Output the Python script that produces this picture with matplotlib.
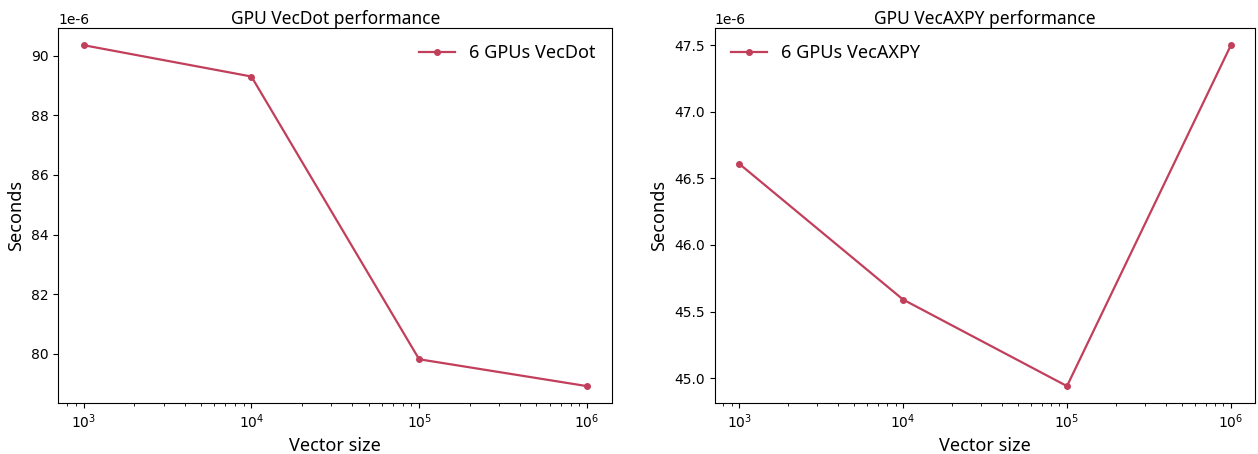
import numpy as np
import matplotlib.pyplot as plt

plt.rcParams["axes.unicode_minus"] = False

sizes = [1e3, 1e4, 1e5, 1e6]
vecdot_times = [90.35e-6, 89.30e-6, 79.82e-6, 78.92e-6]
axpy_times = [46.61e-6, 45.59e-6, 44.94e-6, 47.50e-6]

color = "#c23f5c"
label_font = "Noto Sans"

fig = plt.figure(figsize=(12.58, 4.54), dpi=100)
ax1 = fig.add_axes([0.0465, 0.112, 0.440, 0.826])
ax2 = fig.add_axes([0.568, 0.112, 0.430, 0.826])

panels = [
    (ax1, vecdot_times, "6 GPUs VecDot", "GPU VecDot performance", "upper right"),
    (ax2, axpy_times, "6 GPUs VecAXPY", "GPU VecAXPY performance", "upper left"),
]

for ax, times, lab, title, loc in panels:
    ax.plot(sizes, times, color=color, marker="o", markersize=4, linewidth=1.6, label=lab)
    ax.set_xscale("log")
    ax.ticklabel_format(axis="y", style="sci", scilimits=(-6, -6))
    ax.set_title(title, fontsize=12.5, family=label_font, pad=3)
    ax.set_xlabel("Vector size", fontsize=13, family=label_font)
    ax.set_ylabel("Seconds", fontsize=13, family=label_font)
    ax.legend(loc=loc, frameon=False, prop={"family": label_font, "size": 13})

fig.savefig("out.png")
